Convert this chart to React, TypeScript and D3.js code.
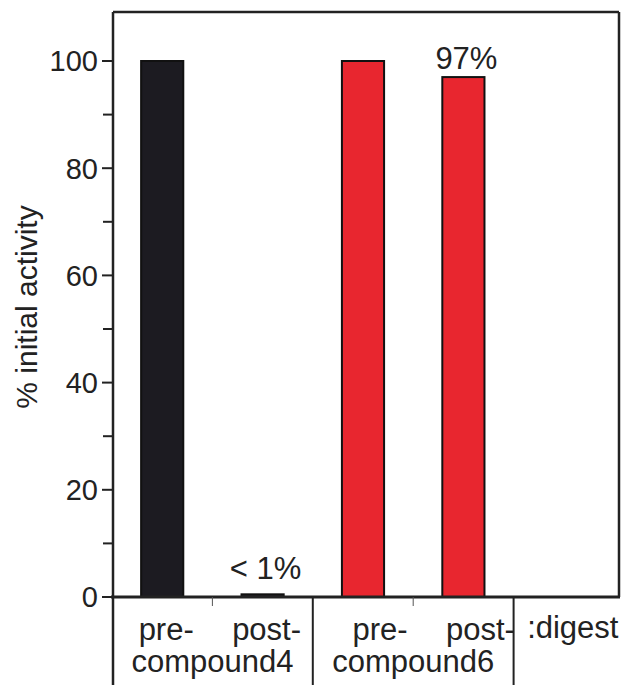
import React from "react";
import * as d3 from "d3";

const slots = ["pre4", "post4", "pre6", "post6", "digest"];
const barSlots = ["pre4", "post4", "pre6", "post6"];
const barValues = [100, 0.5, 100, 97];
const barColors = ["#1c1b21", "#1c1b21", "#e8262f", "#e8262f"];
const barLabels = ["", "< 1%", "", "97%"];
const subLabels = ["pre-", "post-", "pre-", "post-"];
const groupLabels = ["compound4", "compound6"];
const yTicks = [0, 20, 40, 60, 80, 100];
const yMinorTicks = [10, 30, 50, 70, 90];

export default function App() {
  const W = 624, H = 685;
  const left = 113, right = 619, top = 12, base = 597;
  const y = d3.scaleLinear().domain([0, 100]).range([base, 61]);
  const x = d3.scaleBand<string>().domain(slots).range([112, 614]).paddingInner(0);
  const bw = x.bandwidth();
  const barW = bw * 0.42;
  const font = "Liberation Sans, Arial, Helvetica, sans-serif";
  const fs = 29;
  const fsCat = 31;
  const groupShift = [4, 17];

  return (
    <div style={{ position: "absolute", left: 0, top: 0 }}>
      <svg width={W} height={H} style={{ display: "block", background: "#fff" }} fontFamily={font}>
        {barSlots.map((s, i) => {
          const cx = (x(s) as number) + bw / 2;
          const yv = y(barValues[i]);
          return (
            <rect
              key={s}
              x={cx - barW / 2}
              y={yv}
              width={barW}
              height={base - yv}
              fill={barColors[i]}
              stroke="#111"
              strokeWidth={2}
            />
          );
        })}
        {barSlots.map((s, i) =>
          barLabels[i] ? (
            <text
              key={"v" + s}
              x={(x(s) as number) + bw / 2 + 3}
              y={y(barValues[i]) - (barValues[i] < 5 ? 15 : 8)}
              textAnchor="middle"
              fontSize={fsCat}
              fill="#222"
            >
              {barLabels[i]}
            </text>
          ) : null
        )}
        <line x1={left} x2={right} y1={top} y2={top} stroke="#222" strokeWidth={2.5} />
        <line x1={right} x2={right} y1={top} y2={base} stroke="#222" strokeWidth={2.5} />
        <line x1={left} x2={left} y1={top} y2={H} stroke="#222" strokeWidth={2.5} />
        <line x1={left - 2} x2={right + 1} y1={base} y2={base} stroke="#222" strokeWidth={3} />
        {yTicks.map((t) => (
          <g key={"t" + t}>
            <line x1={left - 11} x2={left} y1={y(t)} y2={y(t)} stroke="#222" strokeWidth={2} />
            <text x={left - 15} y={y(t)} dy="0.36em" textAnchor="end" fontSize={fs} fill="#222">
              {t}
            </text>
          </g>
        ))}
        {yMinorTicks.map((t) => (
          <line key={"m" + t} x1={left - 10} x2={left} y1={y(t)} y2={y(t)} stroke="#222" strokeWidth={2} />
        ))}
        <text
          transform={`translate(37, ${(y(0) + y(100)) / 2 - 22}) rotate(-90)`}
          textAnchor="middle"
          fontSize={30}
          fill="#222"
        >
          % initial activity
        </text>
        {[2, 4].map((k) => {
          const xx = 112 + k * bw;
          return <line key={"s" + k} x1={xx} x2={xx} y1={base} y2={H} stroke="#222" strokeWidth={2} />;
        })}
        {[1, 3].map((k) => {
          const xx = 112 + k * bw;
          return <line key={"k" + k} x1={xx} x2={xx} y1={base} y2={base + 9} stroke="#555" strokeWidth={1} />;
        })}
        {barSlots.map((s, i) => (
          <text
            key={"l" + s}
            x={(x(s) as number) + bw / 2 + groupShift[Math.floor(i / 2)]}
            y={640}
            textAnchor="middle"
            fontSize={fsCat}
            fill="#222"
          >
            {subLabels[i]}
          </text>
        ))}
        {groupLabels.map((g, j) => (
          <text
            key={g}
            x={112 + (2 * j + 1) * bw}
            y={672}
            textAnchor="middle"
            fontSize={fsCat}
            fill="#222"
          >
            {g}
          </text>
        ))}
        <text
          x={(x("digest") as number) + bw / 2 + 9}
          y={638}
          textAnchor="middle"
          fontSize={fsCat}
          fill="#222"
        >
          :digest
        </text>
      </svg>
    </div>
  );
}
